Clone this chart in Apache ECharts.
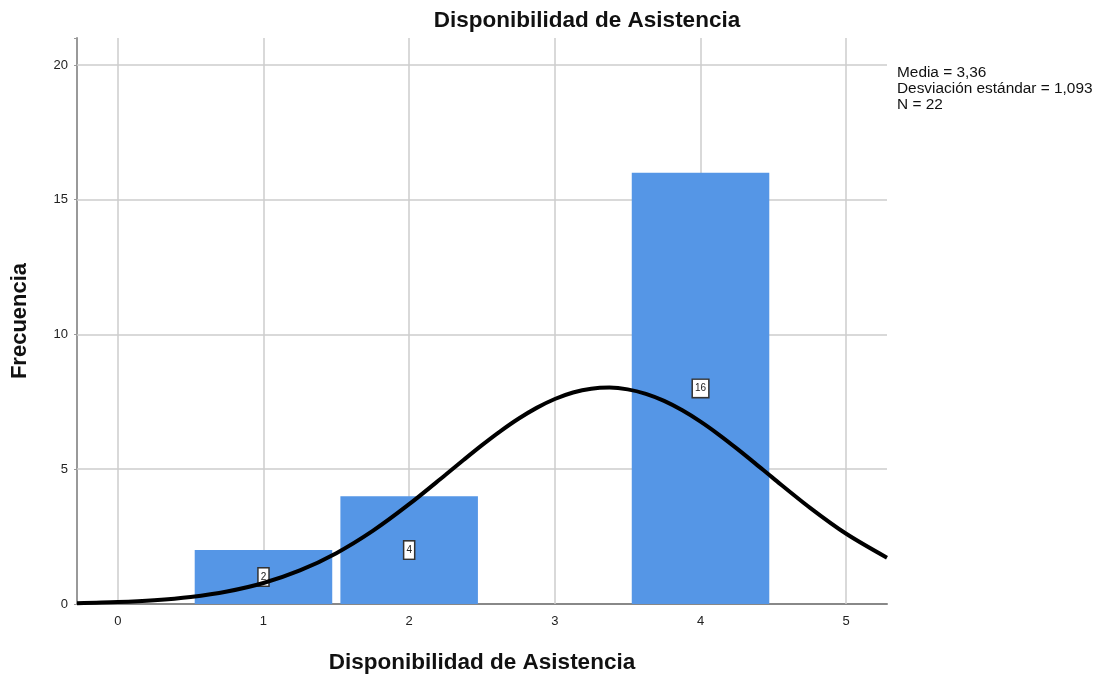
<!DOCTYPE html>
<html><head><meta charset="utf-8">
<script src="https://cdn.jsdelivr.net/npm/echarts@6/dist/echarts.min.js"></script>
<style>html,body{margin:0;padding:0;background:#fff}#c{width:1099px;height:679px}</style>
</head><body><div id="c"></div>
<script>
const categories = [1, 2, 4];
const frequencies = [2, 4, 16];
const xTicks = [0, 1, 2, 3, 4, 5];
const yTicks = [0, 5, 10, 15, 20];
// normal curve (mean 3.36, sd 1.093, N 22) sampled points
const curveX = [-0.28,0,0.25,0.5,0.75,1,1.25,1.5,1.75,2,2.25,2.375,2.5,2.625,2.75,2.875,3,3.125,3.25,3.375,3.5,3.625,3.75,3.875,4,4.125,4.25,4.375,4.5,4.75,5,5.28];
const curveY = [0.031,0.071,0.140,0.262,0.464,0.780,1.245,1.887,2.713,3.703,4.795,5.350,5.893,6.405,6.872,7.277,7.606,7.847,7.989,8.029,7.964,7.797,7.535,7.186,6.765,6.286,5.764,5.218,4.661,3.577,2.605,1.717];
const statsText = ['Media = 3,36', 'Desviación estándar = 1,093', 'N = 22'];

const chart = echarts.init(document.getElementById('c'));
const font = 'Liberation Sans, Arial, sans-serif';
const barHalf = 0.472;
chart.setOption({
  animation: false,
  backgroundColor: '#fff',
  title: {
    text: 'Disponibilidad de Asistencia', left: 582, top: 4, textAlign: 'center',
    textStyle: {fontFamily: font, fontSize: 22.5, fontWeight: 'bold', color: '#111'}
  },
  grid: {left: 77, right: 212, top: 38, bottom: 73},
  xAxis: {
    type: 'value', min: -0.28, max: 5.28, splitNumber: 5,
    name: 'Disponibilidad de Asistencia', nameLocation: 'middle', nameGap: 47,
    nameTextStyle: {fontFamily: font, fontSize: 22.5, fontWeight: 'bold', color: '#111'},
    axisLine: {show: true, onZero: false, lineStyle: {color: '#888', width: 2}},
    axisTick: {show: false}, splitLine: {show: false},
    axisLabel: {fontFamily: font, fontSize: 13, color: '#222', margin: 11,
      formatter: v => xTicks.indexOf(v) >= 0 ? String(v) : ''}
  },
  yAxis: {
    type: 'value', min: 0, max: 21, interval: 5,
    name: 'Frecuencia', nameLocation: 'middle', nameGap: 46,
    nameTextStyle: {fontFamily: font, fontSize: 22, fontWeight: 'bold', color: '#111'},
    axisLine: {show: true, onZero: false, lineStyle: {color: '#999', width: 2}},
    axisTick: {show: true, length: 3, lineStyle: {color: '#999'}}, splitLine: {show: false},
    axisLabel: {fontFamily: font, fontSize: 13, color: '#222', margin: 9,
      formatter: v => yTicks.indexOf(v) >= 0 ? String(v) : ''}
  },
  graphic: [{
    type: 'text', left: 897, top: 65,
    style: {text: statsText.join('\n'), font: '15.4px ' + font, lineHeight: 16, fill: '#111'}
  }],
  series: [
    {
      type: 'line', data: [], silent: true, z: 1,
      markLine: {
        silent: true, symbol: 'none', label: {show: false}, z: 1,
        lineStyle: {color: '#cccccc', width: 1.5, type: 'solid'},
        data: xTicks.map(v => ({xAxis: v})).concat(yTicks.filter(v => v > 0).map(v => ({yAxis: v})))
      }
    },
    {
      type: 'custom', z: 2,
      data: categories.map((c, i) => [c, frequencies[i]]),
      renderItem: function (params, api) {
        const x = api.value(0), y = api.value(1);
        const p0 = api.coord([x - barHalf, y]);
        const p1 = api.coord([x + barHalf, 0]);
        const pm = api.coord([x, y / 2]);
        return {
          type: 'group',
          children: [
            {type: 'rect', shape: {x: p0[0], y: p0[1], width: p1[0] - p0[0], height: p1[1] - p0[1]},
             style: {fill: '#5596e6'}},
            {type: 'text', z2: 100, x: pm[0], y: pm[1],
             style: {text: String(y), font: '10px ' + font, fill: '#222', align: 'center', verticalAlign: 'middle',
               backgroundColor: '#fff', borderColor: '#333', borderWidth: 1.5, padding: [4, 2, 3, 2]}}
          ]
        };
      }
    },
    {
      type: 'line', z: 3, smooth: 0.3, symbol: 'none',
      data: curveX.map((x, i) => [x, curveY[i]]),
      lineStyle: {color: '#000', width: 4}
    }
  ]
});
</script></body></html>
